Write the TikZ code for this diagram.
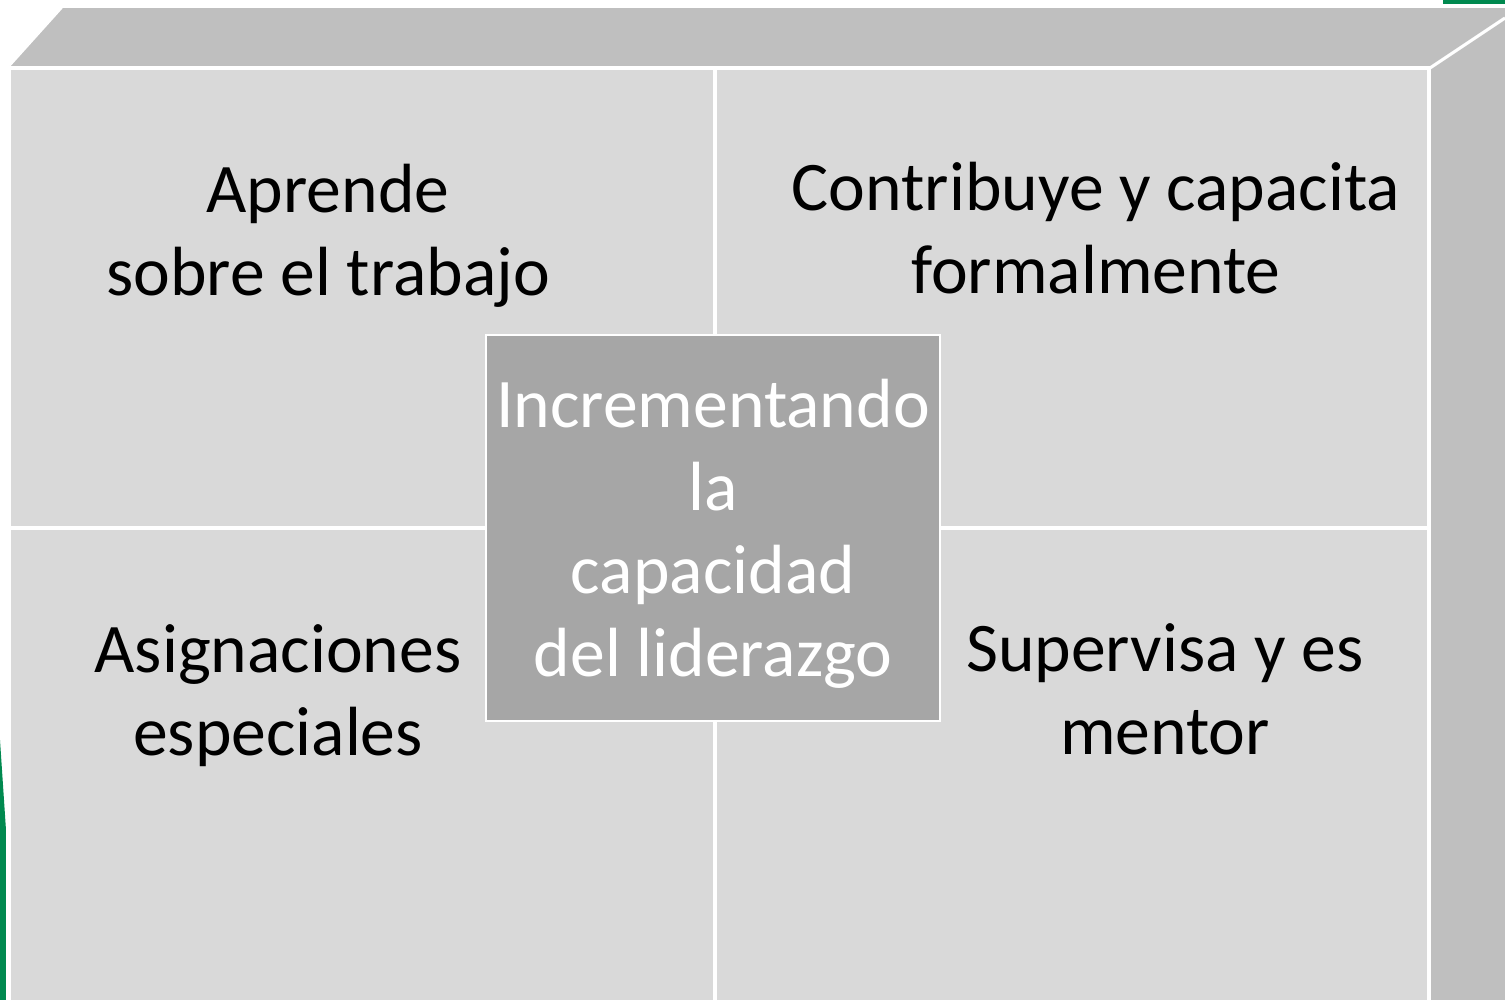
\documentclass[tikz,border=0pt]{standalone}
\usepackage{fontspec}
\setmainfont{Carlito}
\definecolor{topgray}{HTML}{BFBFBF}
\definecolor{frontgray}{HTML}{D9D9D9}
\definecolor{hubgray}{HTML}{A6A6A6}
\definecolor{darkgreen}{HTML}{00894F}
\tikzset {
  % quadrant labels
  cell/.style={align=center, inner sep=0pt, font=\fontsize{19.8}{23.6}\selectfont},
  % text of the middle box
  hubtext/.style={cell, text=white},
  % white seams of the block
  seam/.style={white, line width=0.9pt},
}
\begin{document}
\begin{tikzpicture}[x=0.01cm, y=-0.01cm]
        \useasboundingbox (0,0) rectangle (1505,1000);

        % green bits at the edges
        \fill[darkgreen] (1443,0) rectangle (1505,4);
        \fill[darkgreen] (0,740) -- (6,830) -- (6,1000) -- (0,1000) -- cycle;

        % top and side of the block
        \fill[topgray] (8,68) -- (62,8) -- (1505,8) -- (1505,1000) -- (1430,1000) -- (1430,68) -- cycle;
        \draw[seam] (1430,68) -- (1505,18);
        \draw[seam, line width=0.4pt] (8,68) -- (62,8);

        % front face
        \fill[frontgray] (9,68) rectangle (1429,1000);
        \draw[seam] (9,1000) -- (9,68) -- (1429,68) -- (1429,1000);
        \draw[seam] (715,68) -- (715,1000);
        \draw[seam] (9,528) -- (1429,528);

        % middle box
        \draw[white, line width=0.6pt, fill=hubgray] (486,335) rectangle (940,721);
        \node[hubtext] (hub) at (713,534) {Incrementando\\la\\capacidad\\del liderazgo};

        \node[cell] (learn) at (328,236) {Aprende\\sobre el trabajo};
        \node[cell] (train) at (1096,228) {Contribuye y capacita\\formalmente};
        \node[cell] (tasks) at (278,696) {Asignaciones\\especiales};
        \node[cell] (mentor) at (1165,689) {Supervisa y es\\mentor};
      \end{tikzpicture}
\end{document}
